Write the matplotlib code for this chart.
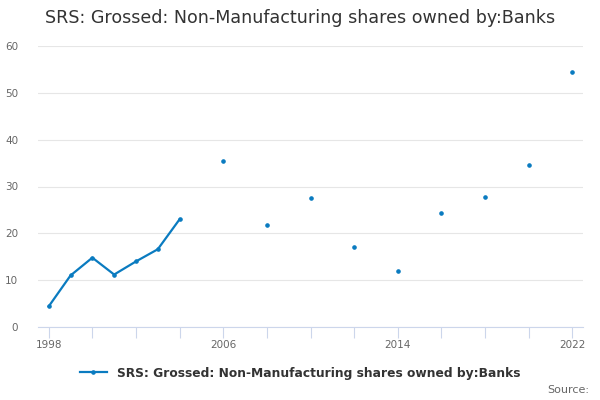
import numpy as np
import matplotlib
matplotlib.use("Agg")
import matplotlib.pyplot as plt

years = [1998, 1999, 2000, 2001, 2002, 2003, 2004, 2005, 2006, 2007, 2008, 2009,
         2010, 2011, 2012, 2013, 2014, 2015, 2016, 2017, 2018, 2019, 2020, 2021, 2022]
values = [4.4, 11.0, 14.8, 11.2, 14.0, 16.6, 23.0, np.nan, 35.5, np.nan, 21.7, np.nan,
          27.6, np.nan, 17.0, np.nan, 11.9, np.nan, 24.4, np.nan, 27.8, np.nan, 34.5, np.nan, 54.4]
series_name = "SRS: Grossed: Non-Manufacturing shares owned by:Banks"
title = "SRS: Grossed: Non-Manufacturing shares owned by:Banks"

line_color = "#0a7bc0"
plt.rcParams['font.family'] = ['DejaVu Sans']

fig = plt.figure(figsize=(6, 4), dpi=100)
ax = fig.add_axes([0.063, 0.1825, 0.909, 0.7025])

ax.plot(years, values, color=line_color, lw=1.6, marker="o", ms=2.3, label=series_name)

ax.set_xlim(1997.5, 2022.5)
ax.set_ylim(0, 60)
ax.set_yticks(range(0, 61, 10))
ax.set_xticks(range(1998, 2023, 2), minor=False)
ax.set_xticklabels([str(y) if (y - 1998) % 8 == 0 else "" for y in range(1998, 2023, 2)])

ax.grid(axis="y", color="#e6e6e6", lw=0.8)
ax.set_axisbelow(True)
for s in ["top", "right", "left"]:
    ax.spines[s].set_visible(False)
ax.spines["bottom"].set_color("#ccd6eb")
ax.tick_params(axis="y", length=0, labelsize=7.5, labelcolor="#666666", pad=14)
ax.tick_params(axis="x", length=8, color="#ccd6eb", labelsize=7.5, labelcolor="#666666", pad=1)

fig.text(0.5, 0.955, title, ha="center", va="center", fontsize=12.6, color="#333333")
leg = fig.legend(loc="center", bbox_to_anchor=(0.5, 0.067), frameon=False,
                 prop={"weight": "bold", "size": 8.8}, handlelength=2.2)
for t in leg.get_texts():
    t.set_color("#333333")
fig.text(0.982, 0.025, "Source:", ha="right", va="center", fontsize=8, color="#666666")

fig.savefig("out.png", dpi=100)
